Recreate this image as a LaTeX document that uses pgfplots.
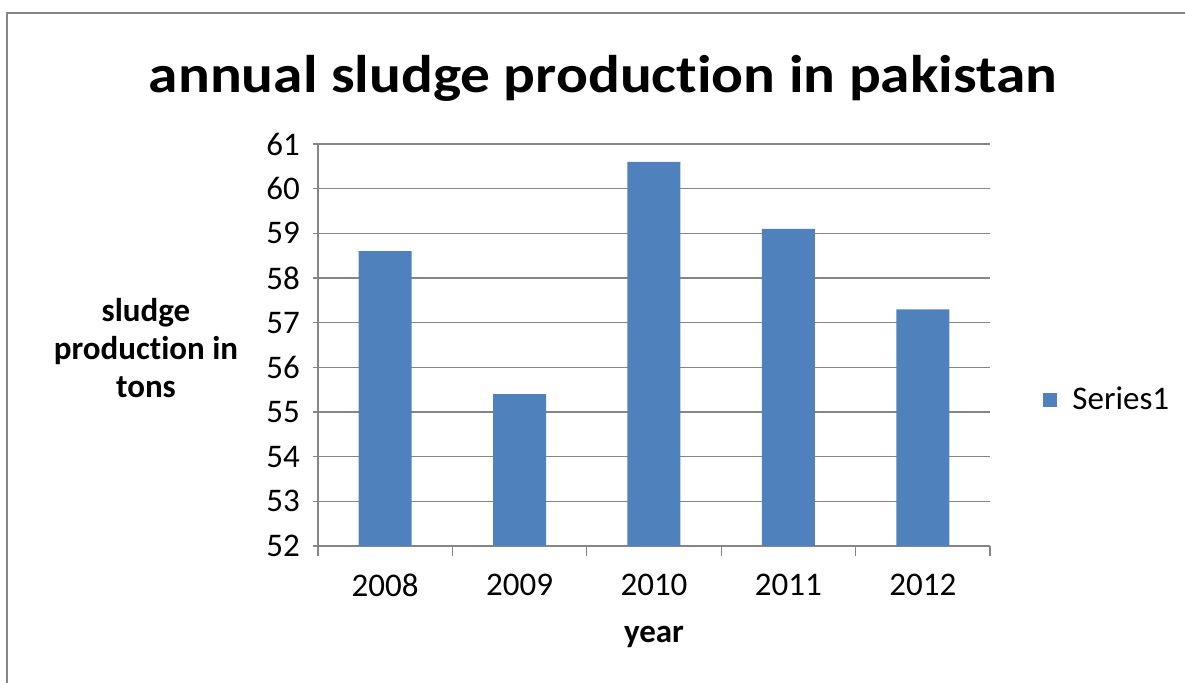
\documentclass[border=0pt]{standalone}
\usepackage{pgfplots}
\pgfplotsset{compat=1.18}
\usepackage{fontspec}
\setmainfont{Carlito}[Ligatures=NoCommon]
\definecolor{barblue}{HTML}{4F81BD}
\definecolor{gridgray}{HTML}{868686}
\begin{document}
\begin{tikzpicture}
\useasboundingbox (0,0) rectangle (592.5pt,-341.5pt);
\draw[gridgray, line width=1.2pt] (3.5pt,-345pt) -- (3.5pt,-6.5pt) -- (596pt,-6.5pt);
\node[anchor=base, xscale=1.12, font=\bfseries\fontsize{26.5}{30}\selectfont] at (301.5pt,-46.5pt) {annual sludge production in pakistan};
\begin{axis}[
  at={(159pt,-273pt)}, anchor=south west,
  scale only axis, width=336pt, height=201pt,
  xmin=-0.5, xmax=4.5, ymin=52, ymax=61,
  ytick={52,53,...,61},
  xtick={0,1,2,3,4},
  xticklabels={2008,2009,2010,2011,2012},
  minor xtick={-0.5,0.5,1.5,2.5,3.5,4.5},
  axis lines*=left,
  axis line style={gridgray, line width=0.6pt},
  ymajorgrids, major grid style={gridgray, line width=0.6pt},
  tick align=outside,
  major tick length=2.5pt, minor tick length=5pt,
  every tick/.style={gridgray, line width=0.6pt},
  x tick style={draw=none},
  minor x tick style={draw=gridgray},
  ticklabel style={font=\fontsize{16.5}{19}\selectfont, text=black},
  /pgf/number format/assume math mode=true,
  xticklabel style={yshift=-8pt},
  yticklabel style={xshift=-3pt},
  xlabel={year},
  xlabel style={font=\bfseries\fontsize{16.5}{19}\selectfont, at={(axis description cs:0.5,-0.239)}, anchor=base},
  ylabel={sludge\\production in\\tons},
  ylabel style={font=\bfseries\fontsize{16.5}{19.2}\selectfont, align=center, rotate=-90, at={(axis description cs:-0.256,0.4925)}, anchor=center},
  legend style={at={(rel axis cs:1.079,0.363)}, anchor=west, draw=none, fill=none, font=\fontsize{16.5}{19}\selectfont, inner sep=0pt, legend cell align=left},
  legend image code/.code={\fill[barblue] (0pt,-3.5pt) rectangle (7pt,3.5pt); \path (12.5pt,0pt);},
]
\addplot[ybar, bar width=26.5pt, fill=barblue, draw=none] coordinates {
  (0,58.6) (1,55.4) (2,60.6) (3,59.1) (4,57.3)
};
\addlegendentry{Series1}
\end{axis}
\end{tikzpicture}
\end{document}
